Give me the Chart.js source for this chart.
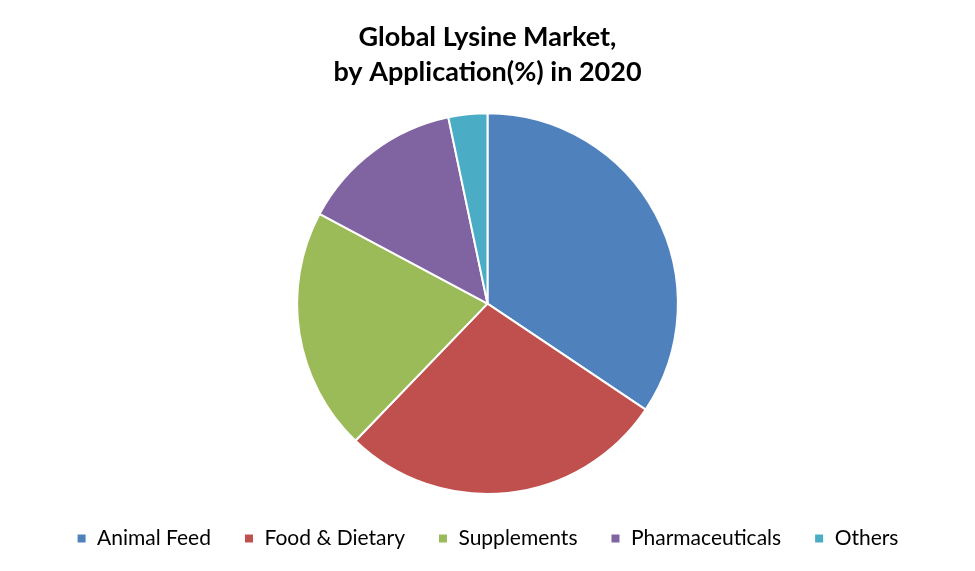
<!DOCTYPE html>
<html>
<head>
<meta charset="utf-8">
<script src="https://cdn.jsdelivr.net/npm/chart.js@4.4.0/dist/chart.umd.min.js"></script>
<style>
  html, body { margin: 0; padding: 0; background: #ffffff; }
  #wrap { width: 975px; height: 571px; position: relative; }
</style>
</head>
<body>
<div id="wrap"><canvas id="c" width="975" height="571"></canvas></div>
<script>
const categories = ["Animal Feed", "Food & Dietary", "Supplements", "Pharmaceuticals", "Others"];
const shares = [34.4, 27.8, 20.6, 13.9, 3.3];
const sliceColors = ["#4F81BD", "#C0504D", "#9BBB59", "#8064A2", "#4BACC6"];
const titleLines = ["Global Lysine Market,", "by Application(%) in 2020"];

new Chart(document.getElementById("c"), {
  type: "pie",
  data: {
    labels: categories,
    datasets: [{
      data: shares,
      backgroundColor: sliceColors,
      borderColor: "#ffffff",
      borderWidth: 2
    }]
  },
  options: {
    responsive: false,
    animation: false,
    layout: { padding: { top: 0, bottom: 12, left: 0, right: 0 } },
    plugins: {
      title: {
        display: true,
        text: titleLines,
        color: "#000000",
        font: { family: "Lato", weight: "bold", size: 27, lineHeight: 1.3 },
        padding: { top: 20, bottom: 22 }
      },
      legend: {
        position: "bottom",
        labels: {
          color: "#000000",
          font: { family: "Lato", size: 21 },
          boxWidth: 10,
          boxHeight: 10,
          padding: 33
        }
      },
      tooltip: { enabled: false }
    }
  }
});
</script>
</body>
</html>
